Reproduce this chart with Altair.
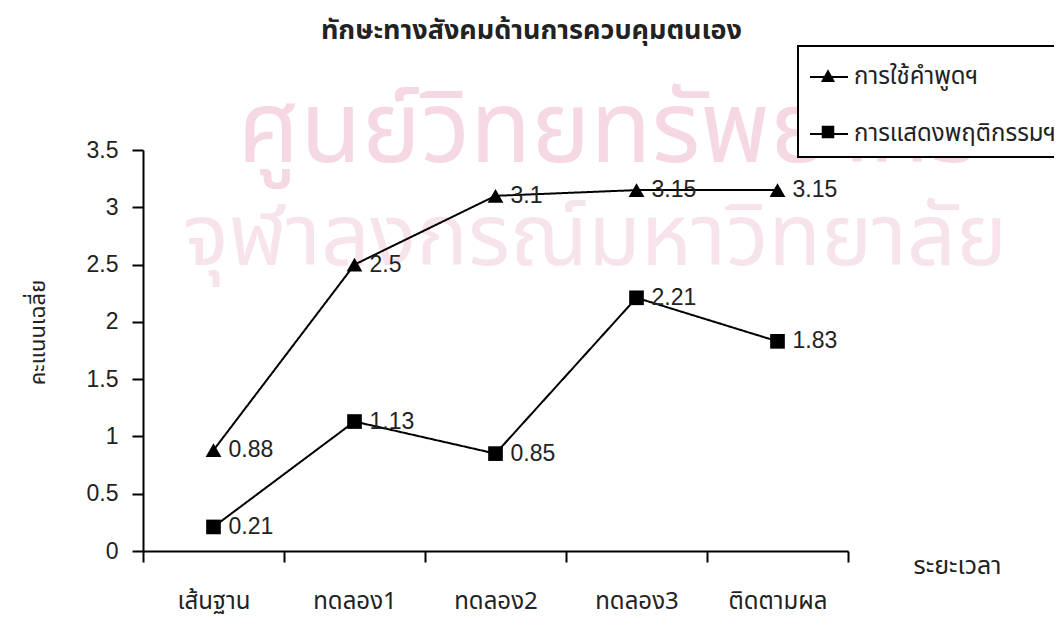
import json
import altair as alt
import pandas as pd

# ---------------- data ----------------
categories = ["เส้นฐาน", "ทดลอง1", "ทดลอง2", "ทดลอง3", "ติดตามผล"]
series_names = ["การใช้คำพูดฯ", "การแสดงพฤติกรรมฯ"]
speech_values = [0.88, 2.5, 3.1, 3.15, 3.15]
behavior_values = [0.21, 1.13, 0.85, 2.21, 1.83]
y_ticks = [0, 0.5, 1, 1.5, 2, 2.5, 3, 3.5]
title_text = "ทักษะทางสังคมด้านการควบคุมตนเอง"
y_title = "คะแนนเฉลี่ย"
x_title = "ระยะเวลา"
watermark_lines = ["ศูนย์วิทยทรัพยากร", "จุฬาลงกรณ์มหาวิทยาลัย"]

rows = []
for i, c in enumerate(categories):
    rows.append({"cat": c, "idx": i, "series": series_names[0], "value": speech_values[i]})
    rows.append({"cat": c, "idx": i, "series": series_names[1], "value": behavior_values[i]})
df = pd.DataFrame(rows)

W, H = 705, 401
FONT = "Liberation Sans, Arial, sans-serif"
THAI = "Noto Sans Thai, Noto Sans, sans-serif"
INK = "#222222"

label_expr = json.dumps(categories, ensure_ascii=False) + "[floor(datum.value)]"

x_scale = alt.Scale(domain=[0, 5], nice=False, zero=False)
y_scale = alt.Scale(domain=[0, 3.5], nice=False, zero=True)

label_axis = alt.Axis(
    values=[i + 0.5 for i in range(len(categories))], labelExpr=label_expr,
    ticks=False, domain=True, domainColor="black", domainWidth=2,
    grid=False, labelFontSize=24, labelFont=THAI, labelFontWeight="normal",
    labelColor=INK, labelPadding=38,
    title=x_title, titleFont=THAI, titleFontSize=25, titleFontWeight="normal",
    titleColor=INK, titleX=814, titleY=14, titleAlign="center", titleBaseline="middle",
    orient="bottom",
)
tick_axis = alt.Axis(
    values=list(range(len(categories) + 1)), labels=False, domain=False,
    ticks=True, tickSize=11, tickWidth=2, tickColor="black", grid=False,
    title=None, orient="bottom",
)
y_axis = alt.Axis(
    values=y_ticks, format="~g", grid=False, domainColor="black", domainWidth=2,
    tickColor="black", tickWidth=2, tickSize=11, labelFontSize=23, labelFont=FONT,
    labelColor=INK, labelPadding=14, title=y_title, titleFont=THAI,
    titleFontSize=22, titleFontWeight="normal", titleColor=INK,
    titleX=-106, titleY=182, titleAlign="center", titleBaseline="middle", titleAngle=270,
)

LEG_X, LEG_Y, LEG_PAD, LEG_ROW, LEG_SIZE, LEG_FONT = 655, -104, 11, 25, 1444, 24

base = alt.Chart(df).transform_calculate(pos="datum.idx + 0.5", series_line="datum.series")
y_enc = alt.Y("value:Q", scale=y_scale, axis=y_axis)

# lines: also provide the boxed legend with line-segment symbols
lines = base.mark_line(color="black", strokeWidth=2).encode(
    x=alt.X("pos:Q", scale=x_scale, axis=label_axis),
    y=y_enc,
    detail="series:N",
    strokeDash=alt.StrokeDash(
        "series_line:N",
        scale=alt.Scale(domain=series_names, range=[[1, 0], [1, 0]]),
        legend=alt.Legend(
            title=None, orient="none", legendX=LEG_X, legendY=LEG_Y,
            strokeColor="black", padding=LEG_PAD, fillColor="white",
            symbolType="stroke", symbolSize=LEG_SIZE, symbolStrokeWidth=2,
            symbolStrokeColor="black", rowPadding=LEG_ROW,
            labelFont=THAI, labelFontSize=LEG_FONT, labelColor=INK, labelOffset=5,
            labelLimit=400, zindex=0,
        ),
    ),
)
points = base.mark_point(filled=True, color="black", opacity=1, strokeWidth=1).encode(
    x=alt.X("pos:Q", scale=x_scale, axis=None),
    y=y_enc,
    shape=alt.Shape("series:N", scale=alt.Scale(domain=series_names, range=["triangle-up", "square"]), legend=None),
    size=alt.Size("series:N", scale=alt.Scale(domain=series_names, range=[250, 215]), legend=None),
)
labels = base.mark_text(align="left", baseline="middle", dx=15, dy=0, fontSize=23,
                        font=FONT, color=INK).encode(
    x=alt.X("pos:Q", scale=x_scale, axis=None),
    y=y_enc,
    text=alt.Text("value:Q", format="~g"),
)
ticks_layer = base.mark_point(opacity=0).encode(
    x=alt.X("pos:Q", scale=x_scale, axis=tick_axis),
    y=y_enc,
)

# marker symbols overlaid on the line legend (same layout, transparent box/labels)
tri_path = "M-0.37,0.32L0,-0.36L0.37,0.32Z"
sq_path = "M-0.33,-0.33H0.33V0.33H-0.33Z"
legend_layer = base.transform_filter("false").mark_point(
    filled=True, color="black"
).encode(
    x=alt.X("pos:Q", scale=x_scale, axis=None),
    y=y_enc,
    shape=alt.Shape(
        "series:N",
        scale=alt.Scale(domain=series_names, range=[tri_path, sq_path]),
        legend=alt.Legend(
            title=None, orient="none", legendX=LEG_X, legendY=LEG_Y,
            padding=LEG_PAD, symbolSize=LEG_SIZE, symbolFillColor="black",
            symbolStrokeWidth=0, symbolOpacity=1, rowPadding=LEG_ROW,
            labelFont=THAI, labelFontSize=LEG_FONT, labelOpacity=0, labelOffset=5,
            labelLimit=400, zindex=1,
        ),
    ),
)

wm1 = alt.Chart(pd.DataFrame({"t": [watermark_lines[0]]})).mark_text(
    font=THAI, fontSize=100, color="#f5d8e4", align="center", baseline="alphabetic"
).encode(x=alt.value(465), y=alt.value(12), text="t:N")
wm2 = alt.Chart(pd.DataFrame({"t": [watermark_lines[1]]})).mark_text(
    font=THAI, fontSize=86, color="#f7e3eb", align="center", baseline="alphabetic"
).encode(x=alt.value(452), y=alt.value(115), text="t:N")

chart = alt.layer(wm1, wm2, lines, points, labels, ticks_layer, legend_layer).resolve_scale(
    shape="independent", size="independent"
).resolve_axis(x="independent").properties(
    width=W, height=H, background="white",
    title=alt.TitleParams(title_text, fontSize=27, fontWeight="bold", font=THAI,
                          color=INK, anchor="middle", dx=36, dy=3, offset=3),
    autosize=alt.AutoSizeParams(type="none"),
    padding={"left": 135, "top": 142, "right": 206, "bottom": 71},
).configure_view(stroke=None, strokeWidth=0).configure_legend(strokeWidth=2)

chart.save("out.html", embed_options={"renderer": "svg", "actions": False})
